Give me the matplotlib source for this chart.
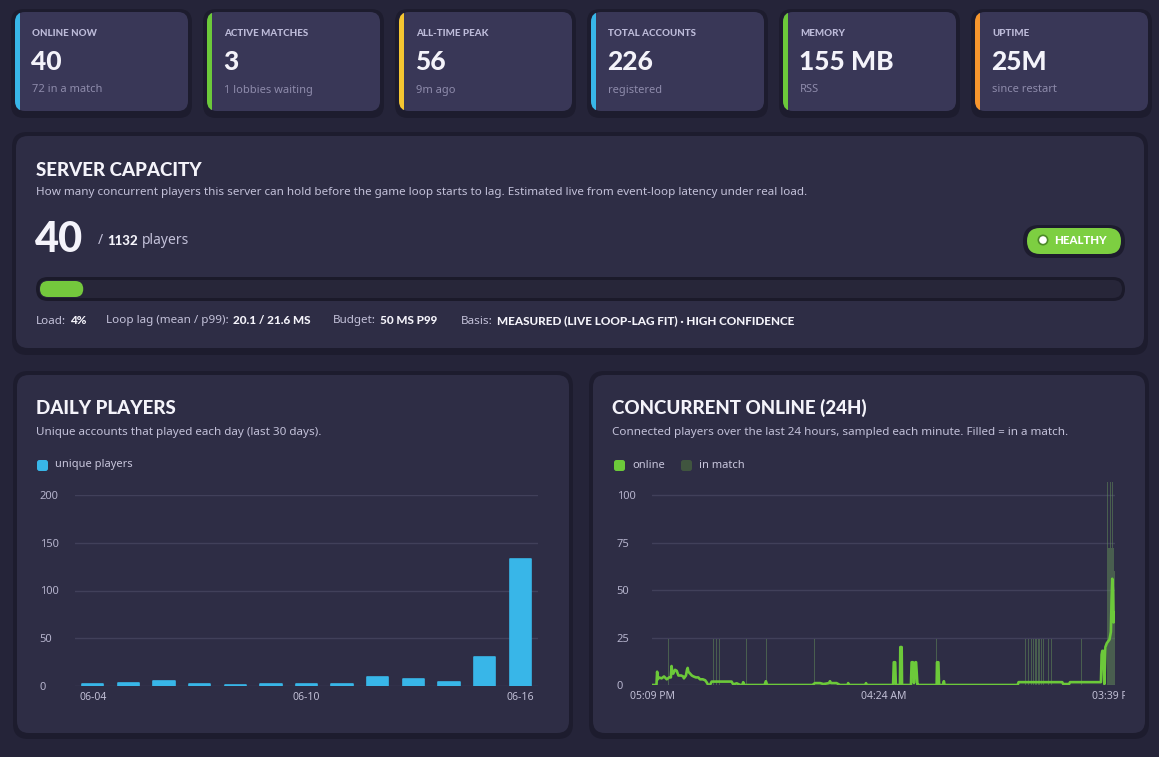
import matplotlib
matplotlib.use("Agg")
import matplotlib.pyplot as plt
from matplotlib.patches import FancyBboxPatch, Rectangle, Circle
from matplotlib.transforms import Bbox

W, H = 1159, 757

# stat cards
card_labels = ["ONLINE NOW", "ACTIVE MATCHES", "ALL-TIME PEAK", "TOTAL ACCOUNTS", "MEMORY", "UPTIME"]
card_values = ["40", "3", "56", "226", "155 MB", "25M"]
card_subs = ["72 in a match", "1 lobbies waiting", "9m ago", "registered", "RSS", "since restart"]
card_colors = ["#38b6e8", "#6cc93a", "#f5c631", "#38b6e8", "#6cc93a", "#f7962d"]

# server capacity
online_now = 40
capacity = 1132
load_pct = 4
lag_text = "20.1 / 21.6 MS"
budget_text = "50 MS P99"
basis_text = "MEASURED (LIVE LOOP-LAG FIT) · HIGH CONFIDENCE"

# daily players (last days)
daily_dates = ["06-04", "06-05", "06-06", "06-07", "06-08", "06-09", "06-10",
               "06-11", "06-12", "06-13", "06-14", "06-15", "06-16"]
daily_players = [2, 3, 5, 2, 1, 2, 2, 2, 9, 7, 4, 30, 133]

# concurrent online, minutes since 05:09 PM
online_min = [0, 13, 15, 17, 20, 28, 35, 43, 50, 55, 57, 59, 62, 67, 72, 77, 85, 91, 93, 99,
              102, 104, 106, 111, 116, 121, 128, 135, 140, 148, 155, 159, 164, 169, 174, 200,
              232, 237, 247, 257, 263, 266, 269, 274, 328, 332, 336, 468, 475, 490, 500, 516,
              519, 522, 538, 548, 570, 572, 574, 622, 624, 626, 703, 705, 709, 711, 723, 724,
              728, 729, 755, 757, 761, 764, 768, 770, 774, 776, 830, 831, 835, 837, 849, 851,
              853, 1066, 1069, 1196, 1199, 1216, 1219, 1309, 1311, 1313, 1316, 1319, 1322,
              1326, 1330, 1334, 1338, 1340, 1342, 1344, 1346, 1348, 1350]
online_val = [0, 0, 7, 3, 4, 3.5, 4.5, 3, 4, 4, 10, 7, 6, 8, 7.5, 5, 5, 4.5, 3.5, 5,
              8, 9, 7, 6, 5, 4.5, 4, 4, 3, 3, 2.5, 1.5, 0, 0, 1.8, 1.8,
              1.8, 0.3, 0.9, 0, 0, 1.5, 0, 0, 0, 2, 0, 0, 1, 1, 0.5, 1,
              2, 1, 1, 0, 0, 1, 0, 0, 1, 0, 0, 12, 12, 0, 0, 20,
              20, 0, 0, 12, 12, 1, 12, 12, 0, 0, 0, 12, 12, 0, 0, 2,
              0, 0, 1.5, 1.5, 0.5, 0.5, 1.5, 1.5, 16, 18, 18, 0.5, 20,
              22, 23, 24, 28, 45, 56, 50, 33, 35, 38]

match_min = [48, 179, 187, 198, 276, 334, 475, 624, 653, 830, 1090, 1097, 1107, 1112, 1117,
             1122, 1126, 1131, 1136, 1141, 1155, 1165, 1219, 1253, 1318, 1321, 1324, 1327,
             1330, 1333, 1336, 1339, 1342, 1345, 1348]
match_val = [24, 24, 24, 24, 24, 24, 24, 24, 24, 24, 24, 24, 24, 24, 24,
             24, 24, 24, 24, 24, 24, 24, 24, 24, 72, 107, 72, 107,
             72, 72, 107, 72, 107, 72, 60]
time_ticks = [0, 675, 1350]
time_labels = ["05:09 PM", "04:24 AM", "03:39 PM"]

DISPLAY = "Lato"
BODY = "Noto Sans"
BG = "#252439"
SHADOW = "#1d1c2e"
CARD = "#393757"
PANEL = "#2e2d45"
GRID = "#41405a"
WHITE = "#f4f3fa"

fig = plt.figure(figsize=(W / 100, H / 100), dpi=100)
fig.patch.set_facecolor(BG)
bg = fig.add_axes([0, 0, 1, 1])
bg.set_xlim(0, W)
bg.set_ylim(H, 0)
bg.axis("off")
bg.set_zorder(0)


def rbox(x, y, w, h, r, color, z=1):
    p = FancyBboxPatch((x + r, y + r), w - 2 * r, h - 2 * r,
                       boxstyle=f"round,pad={r}", fc=color, ec="none", zorder=z)
    bg.add_patch(p)
    return p


def seq(x, y, parts):
    rend = fig.canvas.get_renderer()
    for text, kw, gap in parts:
        t = bg.text(x, y, text, va="center", ha="left", **kw)
        x += t.get_window_extent(renderer=rend).width + gap


# stat cards
for i in range(6):
    x0, y0, w, h = 15 + i * 192, 12, 173, 99
    rbox(x0 - 4, y0 - 3, w + 8, h + 10, 13, SHADOW)
    card = rbox(x0, y0, w, h, 10, CARD, z=2)
    stripe = Rectangle((x0, y0), 5, h, fc=card_colors[i], ec="none", zorder=3)
    bg.add_patch(stripe)
    stripe.set_clip_path(card)
    bg.text(x0 + 17, y0 + 21, card_labels[i], fontsize=7, family=DISPLAY, weight=900,
            color="#bdbbd9", va="center", zorder=4)
    bg.text(x0 + 16, y0 + 50, card_values[i], fontsize=19, family=DISPLAY, weight=900,
            color=WHITE, va="center", zorder=4)
    bg.text(x0 + 17, y0 + 78, card_subs[i], fontsize=8, family=BODY,
            color="#8e8bab", va="center", zorder=4)

# server capacity panel
rbox(12, 132, 1136, 223, 15, SHADOW)
rbox(16, 136, 1128, 212, 12, PANEL, z=2)
bg.text(36, 170, "SERVER CAPACITY", fontsize=13.5, family=DISPLAY, weight=900,
        color=WHITE, va="center", zorder=4)
bg.text(36, 193, "How many concurrent players this server can hold before the game loop "
        "starts to lag. Estimated live from event-loop latency under real load.",
        fontsize=8.4, family=BODY, color="#c3c1d9", va="center", zorder=4)
bg.text(35, 240, str(online_now), fontsize=30, family=DISPLAY, weight=900,
        color=WHITE, va="center", zorder=4)
seq(98, 241, [("/", dict(fontsize=10, family=BODY, color="#c3c1d9", zorder=4), 4),
              (str(capacity), dict(fontsize=9.5, family=DISPLAY, weight=900, color=WHITE, zorder=4), 4),
              ("players", dict(fontsize=10, family=BODY, color="#c3c1d9", zorder=4), 0)])

# healthy pill
rbox(1023, 225, 102, 33, 16, SHADOW, z=3)
rbox(1027, 228, 94, 26, 13, "#7dcf41", z=4)
bg.add_patch(Circle((1043, 240), 5.5, fc="#4c8a27", ec="none", zorder=5))
bg.add_patch(Circle((1043, 240), 3.8, fc="white", ec="none", zorder=6))
bg.text(1054, 241, "HEALTHY", fontsize=8.2, family=DISPLAY, weight=900,
        color="white", va="center", zorder=6)

# load bar
track_x, track_w = 40, 1081
rbox(36, 277, 1089, 24, 12, "#1b1a2a", z=3)
rbox(39, 280, 1083, 18, 9, "#272639", z=4)
rbox(track_x, 281, track_w * load_pct / 100, 16, 8, "#74c83d", z=5)

tkw = dict(fontsize=8.4, family=BODY, color="#c3c1d9", zorder=4)
vkw = dict(fontsize=8.5, family=DISPLAY, weight=900, color=WHITE, zorder=4)
seq(36, 321, [("Load:", tkw, 4), (f"{load_pct}%", vkw, 0)])
seq(106, 321, [("Loop lag (mean / p99):", tkw, 4), (lag_text, vkw, 0)])
seq(333, 321, [("Budget:", tkw, 4), (budget_text, vkw, 0)])
seq(461, 321, [("Basis:", tkw, 4), (basis_text, vkw, 0)])

# bottom panels
for px, title, desc in [(17, "DAILY PLAYERS", "Unique accounts that played each day (last 30 days)."),
                        (593, "CONCURRENT ONLINE (24H)",
                         "Connected players over the last 24 hours, sampled each minute. Filled = in a match.")]:
    rbox(px - 4, 371, 560, 368, 15, SHADOW)
    rbox(px, 375, 552, 358, 12, PANEL, z=2)
    bg.text(px + 19, 408, title, fontsize=13.5, family=DISPLAY, weight=900,
            color=WHITE, va="center", zorder=4)
    bg.text(px + 19, 432, desc, fontsize=8.4, family=BODY, color="#c3c1d9",
            va="center", zorder=4)

# legends
def swatch(x, y, color, label):
    rbox(x - 5, y - 5, 11, 11, 2.5, color, z=4)
    bg.text(x + 13, y, label, fontsize=8, family=BODY, color="#c8c6dc", va="center", zorder=4)


swatch(42, 465, "#38b6e8", "unique players")
swatch(619, 465, "#6cc93a", "online")
swatch(686, 465, "#40553f", "in match")


def make_axes(x_left, x_right, y_bottom, y_top):
    ax = fig.add_axes([x_left / W, 1 - y_bottom / H, (x_right - x_left) / W, (y_bottom - y_top) / H])
    ax.set_facecolor("none")
    ax.set_zorder(5)
    for s in ax.spines.values():
        s.set_visible(False)
    ax.grid(axis="y", color=GRID, linewidth=1)
    ax.set_axisbelow(True)
    ax.tick_params(axis="both", length=0, colors="#b5b3cc")
    ax.tick_params(axis="y", pad=25.5, labelsize=8)
    ax.tick_params(axis="x", pad=4, labelsize=7.5)
    return ax


# daily players bar chart
ax1 = make_axes(75, 538, 686, 495)
xs = list(range(len(daily_dates)))
ax1.bar(xs, daily_players, width=0.6, color="#38b6e8", edgecolor="#38b6e8",
        linewidth=1.2, joinstyle="round", zorder=3)
ax1.set_xlim(-0.5, len(daily_dates) - 0.5)
ax1.set_ylim(0, 200)
ax1.set_yticks([0, 50, 100, 150, 200])
ax1.set_xticks([0, 6, 12])
ax1.set_xticklabels([daily_dates[0], daily_dates[6], daily_dates[12]], weight="bold",
                    family=BODY, color="#c0bed4")
for lab in ax1.get_yticklabels():
    lab.set_horizontalalignment("left")
    lab.set_family(BODY)

# concurrent online chart
ax2 = make_axes(652, 1115, 685, 482)
ax2.bar(match_min, match_val, width=2.4, color="#64905a", alpha=0.5, linewidth=0, zorder=2)
ax2.plot(online_min, online_val, color="#6cc93a", linewidth=1.9, solid_joinstyle="round", zorder=4)
ax2.set_xlim(0, 1350)
ax2.set_ylim(0, 107)
ax2.set_yticks([0, 25, 50, 75, 100])
ax2.set_xticks(time_ticks)
ax2.set_xticklabels(time_labels, weight="bold", family=BODY, color="#c0bed4")
for lab in ax2.get_yticklabels():
    lab.set_horizontalalignment("left")
    lab.set_family(BODY)
clip = Bbox.from_extents(0, 0, 1125, H)
for lab in ax2.get_xticklabels():
    lab.set_clip_on(True)
    lab.set_clip_box(clip)

fig.savefig("out.png", dpi=100, facecolor=BG)
